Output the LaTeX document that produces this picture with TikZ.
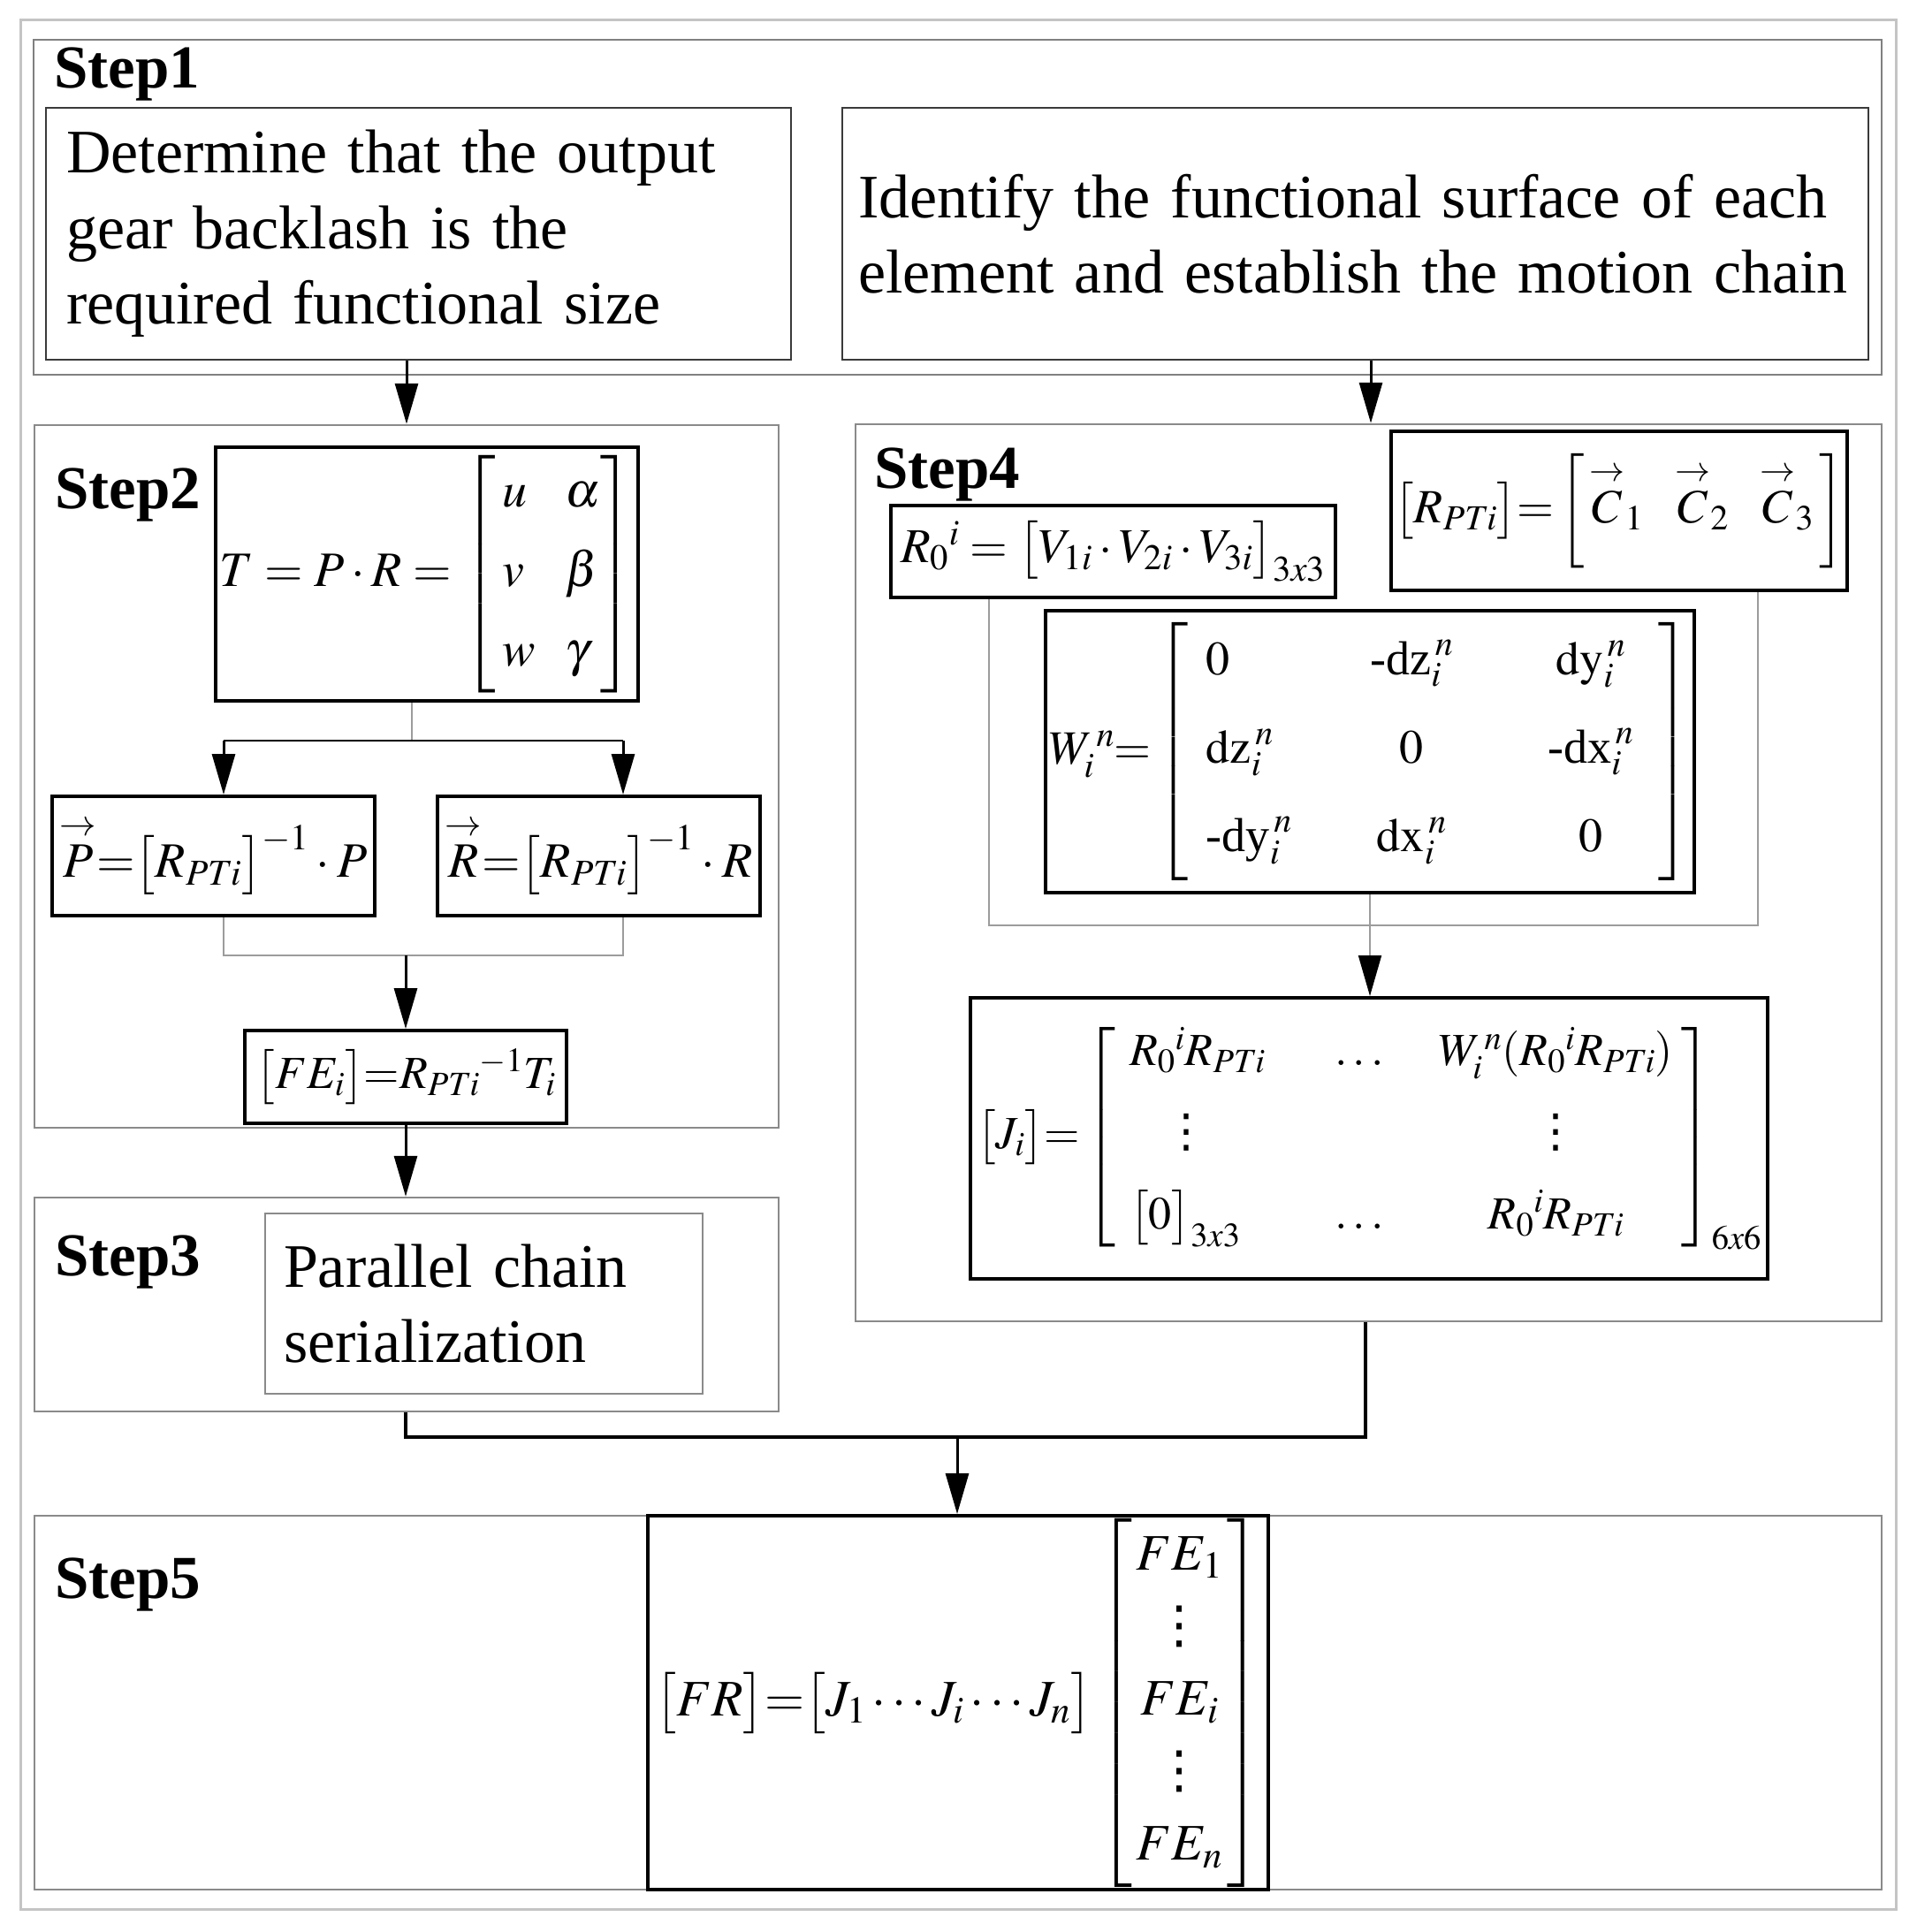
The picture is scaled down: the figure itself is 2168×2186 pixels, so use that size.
\documentclass[tikz,border=0pt]{standalone}
\usepackage{mathptmx}
\usepackage[no-math]{fontspec}
\setmainfont{Liberation Serif}
\newfontfamily\dvfont{DejaVu Sans}
\usetikzlibrary{arrows.meta}
\definecolor{framegray}{HTML}{C4C4C4}
\definecolor{stepgray}{HTML}{8A8A8A}
\definecolor{darkline}{HTML}{3A3A3A}
\definecolor{linkgray}{HTML}{9C9C9C}
\newcommand{\eqL}[2]{\makebox[#1][l]{$#2$}}
\newcommand{\eqC}[2]{\makebox[#1][c]{$#2$}}
\newcommand{\vdts}{\mbox{\dvfont ⋮}}
\newcommand{\vecar}[1]{\mathord{\mathop{\kern0pt #1}\limits^{\rightarrow}}}
\begin{document}
\begin{tikzpicture}[x=1pt,y=-1pt,
  outerframe/.style={draw=framegray,line width=3pt,inner sep=0pt},
  stepframe/.style={draw=stepgray,line width=2.5pt,inner sep=0pt},
  txtbox/.style={draw=darkline,line width=2.5pt,inner ysep=0pt,align=left,font=\fontsize{70}{85.5}\selectfont},
  eqbox/.style={draw=black,line width=4pt,inner sep=0pt},
  steplabel/.style={font=\fontsize{69}{80}\selectfont\bfseries,inner sep=0pt,anchor=base west},
  arr/.style={line width=3pt,-{Triangle[length=46pt,width=26pt]}},
  garr/.style={draw=linkgray,line width=2pt,-{Triangle[length=46pt,width=26pt,color=black]}},
  link/.style={draw=linkgray,line width=2pt},
  mline/.style={line width=3.5pt}]
\useasboundingbox (0,0) rectangle (2168,2186);

% outer frame
\node[outerframe,minimum width=2122,minimum height=2137] (outer) at (1084,1091.5) {};

% ---------- Step 1 ----------
\node[stepframe,draw=gray,minimum width=2091,minimum height=379] (s1) at (1083.5,234.5) {};
\node[steplabel] (l1) at (61,100) {Step1};
\node[txtbox,minimum height=285,text width=797,inner xsep=23pt] (b1) at (473.5,264.5)
  {\mbox{Determine that the output}\\\mbox{gear backlash is the}\\\mbox{required functional size}};
\node[txtbox,minimum height=285,text width=1125,inner xsep=18pt] (b2) at (1533.5,264.5)
  {\mbox{Identify the functional surface of each}\\\mbox{element and establish the motion chain}};

% ---------- Step 2 ----------
\node[stepframe,minimum width=842,minimum height=795] (s2) at (460,878.5) {};
\node[steplabel] (l2) at (62,575) {Step2};
\node[eqbox,minimum width=478,minimum height=287,font=\fontsize{56}{68}\selectfont] (T) at (483,649.5)
  {$T = P\cdot R = \left[\begin{array}{@{\hspace{8pt}}l@{\hspace{34pt}}l@{\hspace{0pt}}}
   u & \alpha\\[22pt] v & \beta\\[22pt] w & \gamma\end{array}\right]$};
\node[eqbox,minimum width=365,minimum height=135,font=\fontsize{56}{67}\selectfont] (P) at (241.5,968.5)
  {$\vecar{P}{=}\bigl[R_{PTi}\bigr]^{-1}\cdot P$};
\node[eqbox,minimum width=365,minimum height=135,font=\fontsize{56}{67}\selectfont] (R) at (677.5,968.5)
  {$\vecar{R}{=}\bigl[R_{PTi}\bigr]^{-1}\cdot R$};
\node[eqbox,minimum width=364,minimum height=105,font=\fontsize{52}{62}\selectfont] (FE) at (459,1218.5)
  {$\bigl[FE_i\bigr]{=}R_{PTi}{}^{-1}T_i$};

% ---------- Step 3 ----------
\node[stepframe,minimum width=842,minimum height=242] (s3) at (460,1476) {};
\node[steplabel] (l3) at (62,1443) {Step3};
\node[txtbox,draw=stepgray,minimum height=204,text width=453,inner xsep=21pt] (b3) at (547.5,1475)
  {Parallel chain\\serialization};

% ---------- Step 4 ----------
\node[stepframe,minimum width=1161,minimum height=1015] (s4) at (1548.5,987.5) {};
\node[steplabel] (l4) at (989,552) {Step4};
\node[eqbox,minimum width=503,minimum height=104,font=\fontsize{55}{66}\selectfont] (R0) at (1259.5,624)
  {$R_0{}^{i} = \bigl[V_{1i}\cdot V_{2i}\cdot V_{3i}\bigr]_{3x3}$};
\node[eqbox,minimum width=516,minimum height=180,font=\fontsize{54}{65}\selectfont] (RP) at (1832,578)
  {$\bigl[R_{PTi}\bigr]{=}\left[\rule[-48pt]{0pt}{118pt}\,\vecar{C}_1\;\;\;\vecar{C}_2\;\;\;\vecar{C}_3\,\right]$};
\node[eqbox,minimum width=734,minimum height=319,font=\fontsize{54}{65}\selectfont] (W) at (1550,850.5)
  {$W_i^{\,n}{=}\left[\begin{array}{@{\hspace{20pt}}c@{}c@{}c@{\hspace{2pt}}}
   \eqL{105pt}{0} & \eqC{255pt}{\mbox{-dz}_i^{\,n}} & \eqC{150pt}{\mathrm{dy}_i^{\,n}}\\[35pt]
   \eqL{105pt}{\mathrm{dz}_i^{\,n}} & \eqC{255pt}{0} & \eqC{150pt}{\mbox{-dx}_i^{\,n}}\\[35pt]
   \eqL{105pt}{\mbox{-dy}_i^{\,n}} & \eqC{255pt}{\mathrm{dx}_i^{\,n}} & \eqC{150pt}{0}
   \end{array}\right]$};
\node[eqbox,minimum width=902,minimum height=318,font=\fontsize{52}{62}\selectfont] (J) at (1549,1288)
  {$\bigl[J_i\bigr]{=}\left[\begin{array}{@{\hspace{16pt}}c@{}c@{}c@{\hspace{4pt}}}
   \eqL{175pt}{R_0{}^{i}R_{PTi}} & \eqC{170pt}{\ldots} & \eqC{275pt}{W_i^{\,n}(R_0{}^{i}R_{PTi})}\\[30pt]
   \eqL{175pt}{\hspace{38pt}\vdts} & & \eqC{275pt}{\vdts}\\[30pt]
   \eqL{175pt}{\bigl[0\bigr]_{3x3}} & \eqC{170pt}{\ldots} & \eqC{275pt}{R_0{}^{i}R_{PTi}}
   \end{array}\right]_{6x6}$};

% ---------- Step 5 ----------
\node[stepframe,minimum width=2090,minimum height=423] (s5) at (1084,1926.5) {};
\node[steplabel] (l5) at (62,1808) {Step5};
\node[eqbox,minimum width=702,minimum height=423,font=\fontsize{58}{70}\selectfont] (FR) at (1084,1926.5)
  {$\bigl[FR\bigr]{=}\bigl[J_1\cdots J_i\cdots J_n\bigr]\left[\begin{array}{c}
   FE_1\\[12pt] \vdts\\[12pt] FE_i\\[12pt] \vdts\\[12pt] FE_n\end{array}\right]$};

% ---------- connectors ----------
\coordinate (x1) at (460,0);
\coordinate (x2) at (1551,0);
\draw[arr] (b1.south -| x1) -- (s2.north -| x1);
\draw[arr] (b2.south -| x2) -- (s4.north -| x2);

\coordinate (tj) at (466,838);
\coordinate (jl) at (253,838);
\coordinate (jr) at (705,838);
\draw[link] (T.south -| tj) -- (tj);
\draw[line width=2.5pt] (jl) -- (jr);
\draw[arr] (jl) -- (jl |- P.north);
\draw[arr] (jr) -- (jr |- R.north);

\coordinate (ml) at (253,1081);
\coordinate (mr) at (705,1081);
\coordinate (mc) at (459,1081);
\draw[link] (P.south -| ml) -- (ml) -- (mr) -- (R.south -| mr);
\draw[arr] (mc) -- (mc |- FE.north);
\draw[arr] (FE.south) -- (s3.north -| FE.south);

\coordinate (rl) at (1119,1047);
\coordinate (rr) at (1989,1047);
\draw[link] (R0.south -| rl) -- (rl) -- (rr) -- (RP.south -| rr);
\draw[garr] (W.south) -- (W.south |- J.north);

\coordinate (m3) at (459,1626);
\coordinate (m4) at (1545,1626);
\coordinate (m5) at (1083,1626);
\draw[mline] (s3.south -| m3) -- (m3) -- (m4) -- (s4.south -| m4);
\draw[arr] (m5) -- (FR.north -| m5);
\end{tikzpicture}
\end{document}
